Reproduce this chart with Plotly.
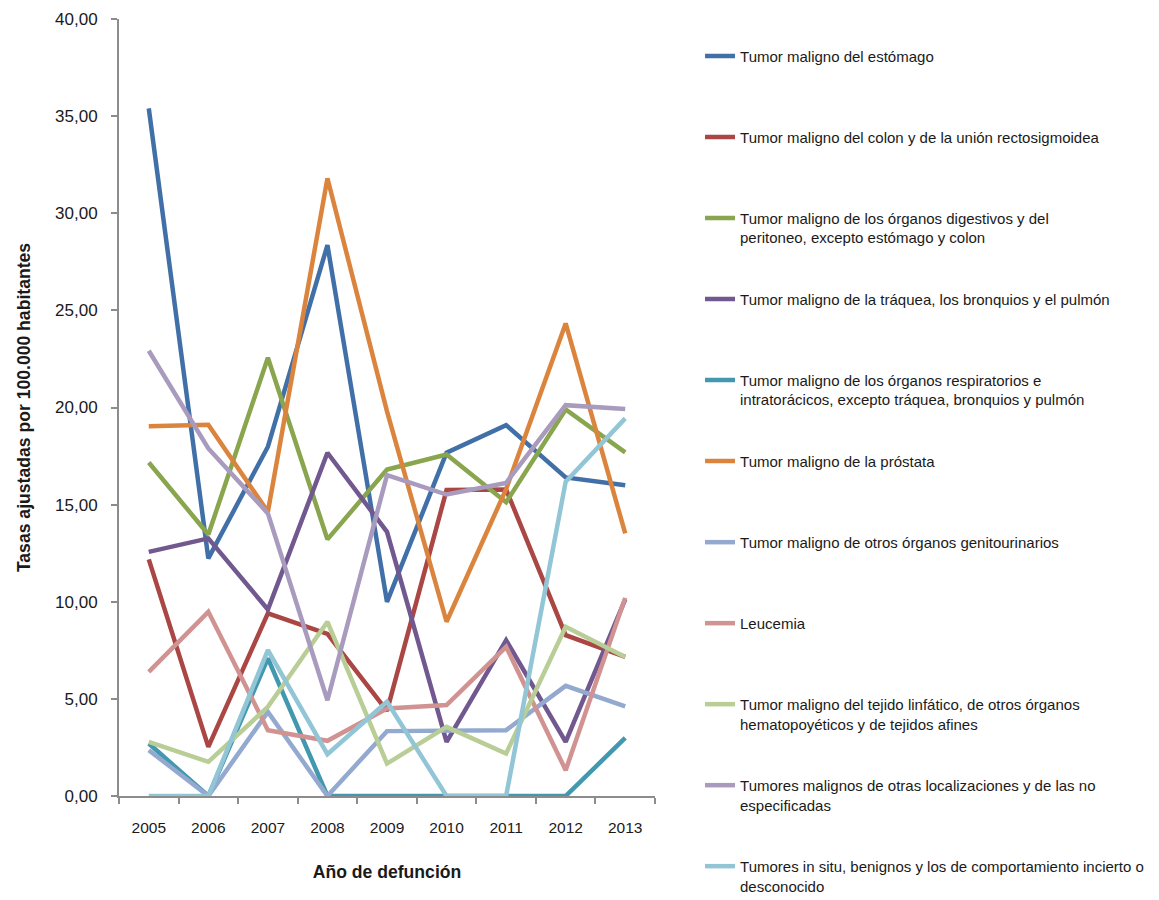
import plotly.graph_objects as go

# Years of death (x categories)
years = ["2005", "2006", "2007", "2008", "2009", "2010", "2011", "2012", "2013"]

# Adjusted rates per 100.000 inhabitants, one list per cause
estomago = [35.40, 12.23, 17.98, 28.36, 9.99, 17.67, 19.09, 16.40, 16.00]
colon = [12.18, 2.53, 9.40, 8.35, 4.38, 15.75, 15.78, 8.28, 7.16]
digestivos = [17.17, 13.46, 22.56, 13.21, 16.81, 17.58, 15.12, 19.90, 17.69]
traquea = [12.57, 13.26, 9.60, 17.67, 13.60, 2.79, 8.02, 2.79, 10.12]
respiratorios = [2.70, 0.00, 7.08, 0.00, 0.00, 0.00, 0.00, 0.00, 2.99]
prostata = [19.04, 19.11, 14.63, 31.80, 19.80, 8.97, 15.80, 24.33, 13.52]
genitourinarios = [2.36, 0.00, 4.33, 0.00, 3.34, 3.34, 3.39, 5.67, 4.62]
leucemia = [6.39, 9.48, 3.39, 2.84, 4.50, 4.68, 7.68, 1.33, 10.20]
linfatico = [2.79, 1.76, 4.59, 8.97, 1.67, 3.56, 2.19, 8.71, 7.16]
otras = [22.92, 17.89, 14.55, 4.93, 16.52, 15.52, 16.12, 20.12, 19.92]
in_situ = [0.00, 0.00, 7.51, 2.15, 4.85, 0.00, 0.00, 16.18, 19.44]

series_names = [
    "Tumor maligno del estómago",
    "Tumor maligno del colon y de la unión rectosigmoidea",
    "Tumor maligno de los órganos digestivos y del<br>peritoneo, excepto estómago y colon",
    "Tumor maligno de la tráquea, los bronquios y el pulmón",
    "Tumor maligno de los órganos respiratorios e<br>intratorácicos, excepto tráquea, bronquios y pulmón",
    "Tumor maligno de la próstata",
    "Tumor maligno de otros órganos genitourinarios",
    "Leucemia",
    "Tumor maligno del tejido linfático, de otros órganos<br>hematopoyéticos y de tejidos afines",
    "Tumores malignos de otras localizaciones y de las no<br>especificadas",
    "Tumores in situ, benignos y los de comportamiento incierto o<br>desconocido",
]
series_values = [estomago, colon, digestivos, traquea, respiratorios, prostata,
                 genitourinarios, leucemia, linfatico, otras, in_situ]
series_colors = ["#4170A8", "#AA4643", "#89A54E", "#71588F", "#4198AF", "#DB843D",
                 "#93A9CF", "#D19392", "#B9CD96", "#A99BBD", "#92C5D6"]

FONT = "Liberation Sans, Arial, sans-serif"
TEXT = "#1a1a1a"
AXIS_GREY = "#8c8c8c"
LEGEND_FONT = dict(family=FONT, size=15, color=TEXT)

fig = go.Figure()
for i, (name, vals, color) in enumerate(zip(series_names, series_values, series_colors)):
    # every legend entry takes two text lines so entries are evenly spaced
    label = name if "<br>" in name else name + "<br>\u00a0"
    fig.add_trace(go.Scatter(
        x=years, y=vals, mode="lines", name=label,
        legendgroup=f"g{i}",
        legend="legend" if i < 6 else "legend2",
        line=dict(color=color, width=4.5),
    ))

legend_common = dict(
    x=1.084, xanchor="left", yanchor="top",
    valign="top", tracegroupgap=39, itemwidth=30,
    bgcolor="rgba(0,0,0,0)", font=LEGEND_FONT,
)

fig.update_layout(
    width=1159, height=900,
    margin=dict(l=119, r=504, t=19, b=104, pad=0, autoexpand=False),
    paper_bgcolor="white", plot_bgcolor="white",
    separators=",.",
    font=dict(family=FONT, size=16, color=TEXT),
    showlegend=True,
    legend=dict(y=0.9733, **legend_common),
    legend2=dict(y=0.3476, **legend_common),
    xaxis=dict(
        type="category", range=[-0.5, 8.5],
        showline=True, linecolor=AXIS_GREY, linewidth=2,
        ticks="outside", tickson="boundaries", ticklen=6,
        tickcolor=AXIS_GREY, tickwidth=2, tickangle=0,
        tickfont=dict(family=FONT, size=15.5, color=TEXT),
        showgrid=False, zeroline=False,
        ticklabelstandoff=16,
        title=dict(text="<b>Año de defunción</b>", standoff=31,
                   font=dict(family=FONT, size=17.6, color=TEXT)),
    ),
    yaxis=dict(
        range=[0, 40], dtick=5, tickformat=".2f",
        showline=True, linecolor=AXIS_GREY, linewidth=2,
        ticks="outside", ticklen=6, tickcolor=AXIS_GREY, tickwidth=2,
        tickfont=dict(family=FONT, size=17, color=TEXT),
        showgrid=False, zeroline=False,
        ticklabelstandoff=10,
        title=dict(text="<b>Tasas ajustadas por 100.000 habitantes</b>", standoff=20,
                   font=dict(family=FONT, size=17.6, color=TEXT)),
    ),
)

fig.write_html("out.html")
